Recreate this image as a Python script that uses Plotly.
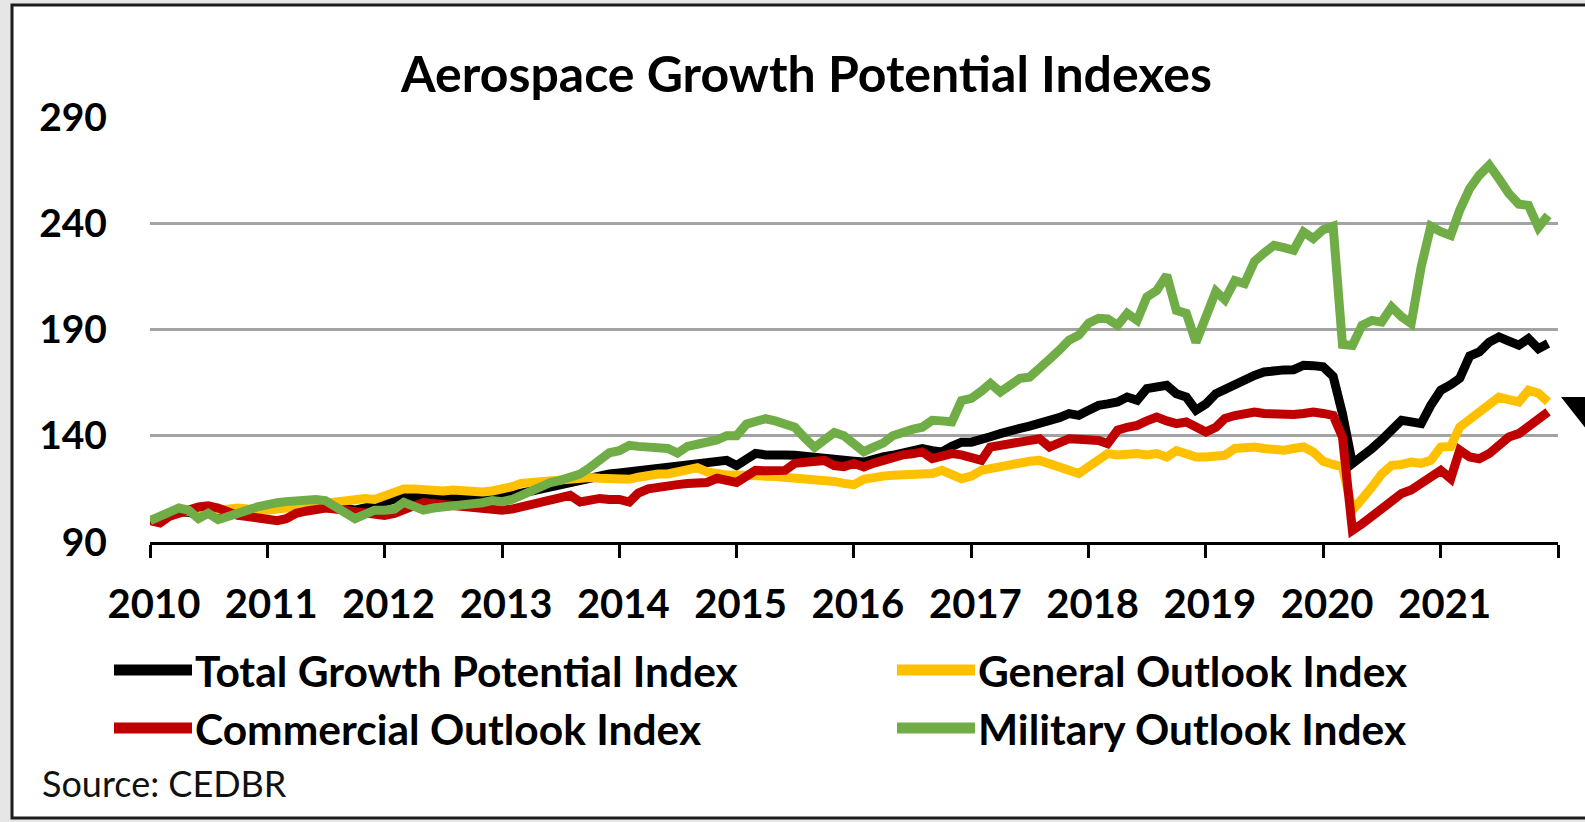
import pandas as pd
import plotly.graph_objects as go

# Monthly index values, Jan 2010 - Dec 2021 (12 values per row = one year)
months = pd.date_range("2010-01-01", periods=144, freq="MS")

total_growth = [
    100, 101.5, 103, 104, 104, 103, 103.5, 102.5, 103, 104, 105, 106,
    106.5, 107, 107.5, 108, 108, 108.5, 108, 107, 106, 105, 106, 107.5,
    109, 110.5, 111.5, 111, 110.5, 111, 111, 110.5, 111, 111.5, 111, 110.5,
    111, 112, 113, 114, 115, 116, 117, 118, 119, 120, 121.4, 122,
    122.5, 123, 123.7, 124, 124.5, 125, 125, 125.5, 126, 127, 127.5, 128.4,
    126, 129, 131.7, 131, 131.5, 131, 130.8, 130.5, 130, 129.4, 129.5, 129,
    128, 127.6, 129, 130, 130.8, 132, 133, 134, 133, 132.4, 135, 137,
    137, 137.8, 139.5, 141, 142.6, 143.5, 144.5, 145.7, 147, 148.5, 150.4, 149.6,
    152, 154.3, 155, 155.9, 158.2, 156.7, 162.2, 163, 163.7, 159.8, 158.2, 152,
    155, 159.8, 162, 164.5, 166, 168.4, 170, 170.8, 171, 171.1, 173.2, 173,
    172.4, 168, 150.4, 126.9, 130, 134, 138, 142.6, 147.3, 146.5, 145.7, 154.3,
    161.4, 164, 167, 177.5, 179.4, 184.1, 186.5, 184.5, 182.6, 185.7, 181, 183.4,
]

general_outlook = [
    100, 101.5, 103, 104, 104.5, 104, 104.5, 105, 106, 106, 105.5, 105,
    105, 105.5, 106, 106.5, 107, 107.5, 108, 109, 110, 110.5, 110.5, 110,
    112, 114, 115, 115, 114.5, 114.5, 114, 114.5, 114, 114, 113.5, 114,
    114.5, 116, 117.6, 118, 118.5, 119, 119.5, 120, 120, 120.4, 120, 119.5,
    119, 119.5, 120.5, 121.4, 122, 122, 122.8, 123.5, 125, 123, 122, 121.5,
    121.5, 121, 121.4, 121, 120.8, 120.5, 120.4, 120, 120, 119.5, 118.5, 117.6,
    117, 119.5, 120.6, 121, 121.4, 121.5, 122, 122, 122.2, 123.7, 122, 119.8,
    121, 123.7, 124.5, 125.5, 126.9, 127.5, 128, 128.4, 127, 125.3, 123.5, 122.2,
    125.5, 128.5, 131.6, 131, 131.6, 131.6, 131, 131.6, 130, 133, 131.5, 130,
    130, 130.5, 130.8, 134, 134.5, 134.7, 134, 133.5, 133.2, 134, 134.7, 132.4,
    128, 126.5, 125.3, 104.9, 110, 115.9, 122, 126.1, 126.5, 127.6, 127, 128.4,
    134.7, 135, 144.1, 147.5, 150.4, 154, 158.2, 157, 155.9, 161.4, 160, 155.9,
]

commercial_outlook = [
    100, 99, 102, 103, 105, 106.5, 107, 106, 104, 102.5, 102, 101.5,
    100.5, 100, 101, 103.5, 104.5, 105.5, 106, 105.5, 105, 104.5, 103.5, 102.5,
    102.5, 103.5, 105.5, 107, 108.5, 108, 107.5, 107, 107.5, 107, 106.5, 106,
    105, 105.5, 106.5, 107.5, 108.8, 110, 111, 112, 108.8, 110, 110.5, 110,
    110, 108.8, 113, 115, 116, 116.7, 117, 117.5, 118, 118, 120, 119,
    118, 121, 123.7, 123.5, 123.5, 123.7, 127, 127.5, 128, 128.4, 126, 125.5,
    127, 125.3, 127, 128.5, 130, 131, 131.5, 132.4, 129.2, 130.5, 131.6, 131,
    129.5, 128.4, 134.7, 135.5, 136.5, 137.5, 137.8, 138.6, 134.7, 136.5, 138.6, 138.3,
    138, 137.8, 136.3, 142.6, 144, 144.9, 147, 148.8, 147, 145.7, 146.5, 144,
    141.8, 144, 148.1, 149.5, 150.5, 151.2, 150.5, 150, 149.6, 150, 150.5, 151.2,
    150.5, 149.6, 139.4, 95.5, 98.5, 102, 106, 109.6, 112.8, 114.5, 117.5, 119.5,
    123.7, 119.8, 133.2, 130, 129.2, 131.6, 135, 139.4, 141, 144.1, 147, 151.2,
]

military_outlook = [
    100, 102, 104, 106, 105, 101, 103.5, 100.5, 102, 104, 105, 106.5,
    108, 108.5, 109, 109.5, 109, 110, 109.5, 107, 104, 101, 103, 105,
    105, 105.5, 108.7, 107, 105, 106, 106.5, 106, 107, 108, 108.5, 109.5,
    109, 110, 112, 114, 116, 118, 119, 120.5, 122, 125, 128, 132,
    133, 135.5, 135, 134.5, 134.5, 134, 131.8, 135, 136, 136.5, 138, 140,
    140, 145.5, 147, 148, 147, 146, 144, 139, 134.5, 138, 141.5, 140,
    136, 132.5, 134.5, 136.5, 140, 141.8, 143, 144, 147.3, 147, 146.5, 156.5,
    157.6, 161, 164.6, 160.6, 164, 167, 167.6, 172.4, 176, 180.2, 185, 187.3,
    193, 195.3, 195, 192, 197.6, 194.3, 205.3, 208.4, 215.5, 199, 197.6, 184,
    196, 208, 204, 213, 211.6, 222, 226, 229.6, 228.5, 227.3, 235.9, 232.8,
    237, 238.6, 183, 182.5, 192, 194.3, 193.5, 200.6, 196, 192.8, 219.4, 238.6,
    236, 234.3, 246.1, 256.3, 262.6, 267.3, 261, 254, 249, 248.4, 238, 243.7,
]

series_names = [
    "Total Growth Potential Index",
    "General Outlook Index",
    "Commercial Outlook Index",
    "Military Outlook Index",
]
series_values = [total_growth, general_outlook, commercial_outlook, military_outlook]
series_colors = ["#000000", "#FFC000", "#C00000", "#70AD47"]

year_ticks = [f"{y}-01-01" for y in range(2010, 2023)]
year_labels = [str(y) for y in range(2010, 2022)] + [""]
y_ticks = [90, 140, 190, 240, 290]

# Page geometry (pixels) and plot-area margins
W, H = 1585, 822
ML, MR, MT, MB = 150, 27, 117, 280
PW, PH = W - ML - MR, H - MT - MB


def px(x):
    return (x - ML) / PW


def py(y):
    return (H - MB - y) / PH


FONT = "Lato"

fig = go.Figure()
for name, vals, col in zip(series_names, series_values, series_colors):
    fig.add_trace(go.Scatter(
        x=months, y=vals, name=name, mode="lines",
        line=dict(color=col, width=9), showlegend=False,
    ))

shapes = [
    # chart frame on the grey page
    dict(type="rect", xref="paper", yref="paper", layer="below",
         x0=px(12), x1=px(1600), y0=py(818), y1=py(5),
         fillcolor="white", line=dict(color="#1c1c1c", width=3)),
    # dark wedge at the right edge
    dict(type="path", xref="paper", yref="paper",
         path=f"M {px(1561)},{py(397)} L {px(1590)},{py(397)} L {px(1590)},{py(434)} Z",
         fillcolor="black", line=dict(width=0)),
]

annotations = [
    dict(text="Aerospace Growth Potential Indexes", xref="paper", yref="paper",
         x=px(806), y=py(73), xanchor="center", yanchor="middle", showarrow=False,
         font=dict(family=FONT, size=50, color="black", weight="bold")),
    dict(text="Source: CEDBR", xref="paper", yref="paper",
         x=px(40), y=py(783), xanchor="left", yanchor="middle", showarrow=False,
         font=dict(family=FONT, size=36, color="#111111")),
]

# Two-column legend: line swatch followed by the series name
legend_slots = [(114, 670), (897, 670), (114, 728), (897, 728)]
for (lx, ly), name, col in zip(legend_slots, series_names, series_colors):
    shapes.append(dict(type="line", xref="paper", yref="paper",
                       x0=px(lx), x1=px(lx + 78), y0=py(ly), y1=py(ly),
                       line=dict(color=col, width=11)))
    annotations.append(dict(text=name, xref="paper", yref="paper",
                            x=px(lx + 79), y=py(ly), xanchor="left", yanchor="middle",
                            showarrow=False,
                            font=dict(family=FONT, size=42.5, color="black", weight="bold")))

fig.update_layout(
    width=W, height=H,
    margin=dict(l=ML, r=MR, t=MT, b=MB, autoexpand=False),
    paper_bgcolor="#e6e6e6",
    plot_bgcolor="rgba(0,0,0,0)",
    shapes=shapes,
    annotations=annotations,
    showlegend=False,
    xaxis=dict(
        type="date", range=["2010-01-01", "2022-01-01"],
        tickvals=year_ticks, ticktext=year_labels,
        showgrid=False, zeroline=False,
        showline=True, linecolor="black", linewidth=3,
        ticks="outside", ticklen=13, tickwidth=3, tickcolor="black",
        ticklabelstandoff=12, ticklabelshift=4,
        tickfont=dict(family=FONT, size=40, color="black", weight="bold"),
    ),
    yaxis=dict(
        range=[90, 290], tickvals=y_ticks,
        showgrid=True, gridcolor="#a3a3a3", gridwidth=2.5,
        zeroline=False, showline=False, ticks="",
        ticklabelstandoff=42,
        tickfont=dict(family=FONT, size=39, color="black", weight="bold"),
    ),
)

fig.write_html("out.html")
